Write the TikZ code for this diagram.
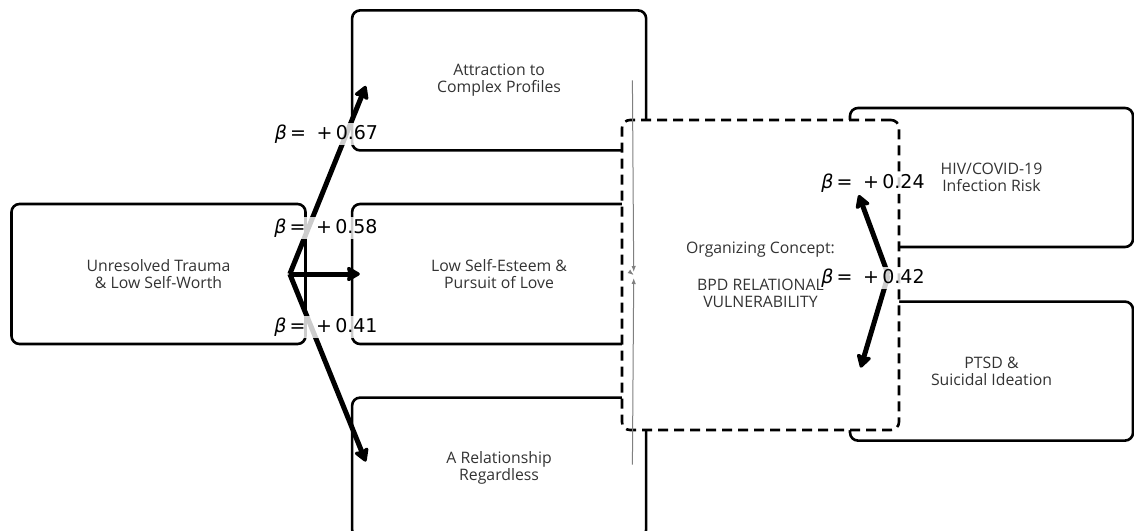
\documentclass[tikz,border=0pt]{standalone}
\usepackage{fontspec}
\setmainfont{Open Sans}
\newfontfamily\betafont{DejaVu Sans}
\usepackage{tikz}
\usetikzlibrary{arrows.meta, positioning}
\usepackage{xcolor}
\definecolor{txtgray}{HTML}{333333}

\newcommand{\bcoef}[1]{{\betafont\textit{β}\,=\;\;+\,#1}}

\begin{document}
\begin{tikzpicture}[
        x=0.5pt, y=-0.5pt,
        node distance=25.5pt and 22pt,
        box/.style={draw, fill=white, line width=1.3pt, rounded corners=4pt, align=center, text=txtgray, font=\fontsize{7.9}{8.5}\selectfont, minimum width=147pt, minimum height=70pt},
        outbox/.style={box, minimum width=141.5pt, minimum height=69.5pt},
        conceptbox/.style={box, dash pattern=on 5pt off 3pt, minimum width=138.5pt, minimum height=155pt},
        arrow/.style={-{Stealth[length=7.5pt, width=8.5pt, inset=1pt, round]}, line width=2.5pt},
        feed/.style={-{Latex[length=3pt, width=2.2pt]}, gray, line width=0.5pt},
        coef/.style={fill=white, fill opacity=0.8, text opacity=1, inner sep=1pt, font=\fontsize{9.5}{10}\selectfont}
    ]
    \useasboundingbox (0,0) rectangle (1134,530);
    % left column
    \node[box] (trauma) at (158.5,274) {Unresolved Trauma\\\& Low Self-Worth};
    \node[box, right=of trauma] (esteem) {Low Self-Esteem \&\\Pursuit of Love};
    \node[box, above=of esteem] (attract) {Attraction to\\Complex Profiles};
    \node[box, below=of esteem] (regard) {A Relationship\\Regardless};
    % outcomes
    \node[outbox] (hiv) at (991.5,177.5) {HIV/COVID-19\\Infection Risk};
    \node[outbox, below=26pt of hiv] (ptsd) {PTSD \&\\Suicidal Ideation};

    \draw[arrow] ([xshift=-8.5pt]trauma.east) -- ([xshift=7.5pt, yshift=-2.75pt]attract.west);
    \draw[arrow] ([xshift=-8.5pt]trauma.east) -- ([xshift=4.5pt]esteem.west);
    \draw[arrow] ([xshift=-8.5pt]trauma.east) -- ([xshift=7.5pt, yshift=3pt]regard.west);
    \node[coef] (c67) at (326.5,134) {\bcoef{0.67}};
    \node[coef] (c58) at (326,228) {\bcoef{0.58}};
    \node[coef] (c41) at (326,327) {\bcoef{0.41}};

    % organizing concept on top
    \node[conceptbox] (concept) at (760.5,275) {Organizing Concept:\\[10pt]BPD RELATIONAL\\VULNERABILITY};
    \draw[feed] ([xshift=-7.5pt]attract.east) -- ([xshift=6.5pt, yshift=1.5pt]concept.west);
    \draw[feed] ([xshift=-7.5pt]esteem.east) -- ([xshift=6.5pt]concept.west);
    \draw[feed] ([xshift=-7.5pt, yshift=1.5pt]regard.east) -- ([xshift=6.5pt, yshift=-1.5pt]concept.west);

    \draw[arrow] ([xshift=-6pt]concept.east) -- ([xshift=5pt, yshift=-8.75pt]hiv.west);
    \draw[arrow] ([xshift=-6pt]concept.east) -- ([xshift=6pt, yshift=1.75pt]ptsd.west);
    \node[coef] (c24) at (873,183) {\bcoef{0.24}};
    \node[coef] (c42) at (873,278) {\bcoef{0.42}};
\end{tikzpicture}
\end{document}
